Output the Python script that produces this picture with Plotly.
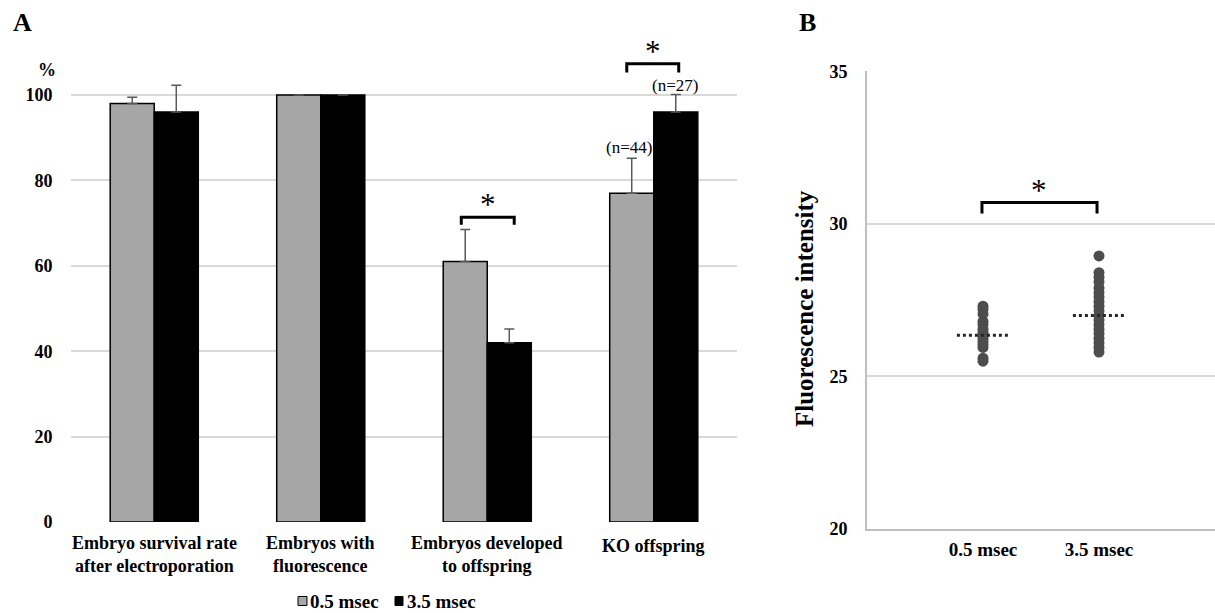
import plotly.graph_objects as go

# ---------------- data ----------------
categories = ["Embryo survival rate<br>after electroporation",
              "Embryos with<br>fluorescence",
              "Embryos developed<br>to offspring",
              "KO offspring"]
series_names = ["0.5 msec", "3.5 msec"]
vals_05 = [98.0, 100.0, 61.0, 77.0]
vals_35 = [96.0, 100.0, 42.0, 96.0]
err_05 = [1.5, None, 7.5, 8.2]
err_35 = [6.3, None, 3.2, 4.1]
n_labels = ["(n=44)", "(n=27)"]
yticks_a = [0, 20, 40, 60, 80, 100]

groups_b = ["0.5 msec", "3.5 msec"]
fluo_05 = [27.3, 27.2, 27.05, 26.8, 26.7, 26.55, 26.45, 26.35, 26.25, 26.15,
           26.05, 25.95, 25.6, 25.5]
fluo_35 = [28.95, 28.4, 28.25, 28.1, 27.9, 27.75, 27.6, 27.45, 27.3, 27.15,
           27.0, 26.85, 26.7, 26.55, 26.4, 26.25, 26.1, 25.95, 25.8]
mean_05 = 26.35
mean_35 = 27.0
yticks_b = [20, 25, 30, 35]

SERIF = "Liberation Serif, Times New Roman, serif"
GRID = "#D9D9D9"
COL_05 = "#A6A6A6"
COL_35 = "#000000"

W, H = 1215, 613
def px(x):
    return x / W
def py(y):
    return 1 - y / H

fig = go.Figure()

xpos = list(range(len(categories)))
for vals, errs, col, name in [(vals_05, err_05, COL_05, series_names[0]),
                              (vals_35, err_35, COL_35, series_names[1])]:
    fig.add_trace(go.Bar(
        x=xpos, y=vals, name=name, showlegend=False,
        marker=dict(color=col, line=dict(color="black", width=1.5)),
        error_y=dict(type="data", symmetric=False, array=errs,
                     arrayminus=[0 if e is not None else None for e in errs],
                     color="#595959", thickness=1.5, width=5),
        xaxis="x", yaxis="y"))

# Panel B dots
for xc, vals in [(1, fluo_05), (2, fluo_35)]:
    fig.add_trace(go.Scatter(
        x=[xc] * len(vals), y=vals, mode="markers",
        marker=dict(color="#4D4D4D", size=11), showlegend=False,
        xaxis="x2", yaxis="y2"))
for xc, m in [(1, mean_05), (2, mean_35)]:
    fig.add_trace(go.Scatter(
        x=[xc - 0.225, xc + 0.225], y=[m, m], mode="lines",
        line=dict(color="#262626", width=3, dash="dot"), showlegend=False,
        xaxis="x2", yaxis="y2"))

# category labels
for i, lab in enumerate(categories):
    one_line = "<br>" not in lab
    fig.add_annotation(x=i, y=py(545.5 if one_line else 554), xref="x", yref="paper",
                       xanchor="center", yanchor="middle",
                       text=f"<b>{lab}</b>", showarrow=False,
                       font=dict(family=SERIF, size=18, color="black"))

# brackets with asterisks
def bracket(xref, yref, x0, x1, ytop, ybot):
    fig.add_shape(type="path", xref=xref, yref=yref,
                  path=f"M {x0},{ybot} L {x0},{ytop} L {x1},{ytop} L {x1},{ybot}",
                  line=dict(color="black", width=3))
    fig.add_annotation(x=(x0 + x1) / 2, y=ytop, xref=xref, yref=yref,
                       text="*", showarrow=False, yanchor="bottom", yshift=-7,
                       font=dict(family=SERIF, size=31, color="black"))

bracket("x", "y", 2 - 0.156, 2 + 0.162, 71.4, 69.6)
bracket("x", "y", 3 - 0.162, 3 + 0.150, 107.3, 105.3)
bracket("x2", "y2", 0.991, 1.983, 30.70, 30.34)

# n labels
fig.add_annotation(x=3 - 0.15, y=87.6, xref="x", yref="y", text=n_labels[0],
                   showarrow=False, font=dict(family=SERIF, size=17, color="black"))
fig.add_annotation(x=3 + 0.126, y=102.3, xref="x", yref="y", text=n_labels[1],
                   showarrow=False, font=dict(family=SERIF, size=17, color="black"))

# panel letters, % label, y title of B
for x, y, t, s in [(22, 22, "A", 26), (807, 22, "B", 26), (47, 70, "%", 18)]:
    fig.add_annotation(x=px(x), y=py(y), xref="paper", yref="paper",
                       xanchor="center", yanchor="middle",
                       text=f"<b>{t}</b>", showarrow=False,
                       font=dict(family=SERIF, size=s, color="black"))
fig.add_annotation(x=px(804), y=py(309), xref="paper", yref="paper",
                   xanchor="center", yanchor="middle", textangle=-90,
                   text="<b>Fluorescence intensity</b>", showarrow=False,
                   font=dict(family=SERIF, size=25, color="black"))

# manual legend
for (x0, x1, tx), col, name in [((298, 307, 308), COL_05, series_names[0]),
                                ((395, 403, 405), COL_35, series_names[1])]:
    fig.add_shape(type="rect", xref="paper", yref="paper",
                  x0=px(x0), x1=px(x1), y0=py(605.5), y1=py(596.5),
                  fillcolor=col, line=dict(color="black", width=1))
    fig.add_annotation(x=px(tx), y=py(601), xref="paper", yref="paper",
                       xanchor="left", yanchor="middle",
                       text=f"<b>{name}</b>", showarrow=False,
                       font=dict(family=SERIF, size=19, color="black"))

fig.update_layout(
    width=W, height=H,
    margin=dict(l=0, r=0, t=0, b=0, autoexpand=False),
    paper_bgcolor="white", plot_bgcolor="white",
    barmode="group", bargap=0.471, bargroupgap=0,
    font=dict(family=SERIF, color="black"),
    showlegend=False,
    xaxis=dict(domain=[px(71), px(737)], range=[-0.5, 3.5],
               tickvals=xpos, showticklabels=False,
               showgrid=False, zeroline=False, showline=False,
               automargin=False),
    yaxis=dict(domain=[py(522), py(43.8)], range=[0, 112],
               tickvals=yticks_a, ticktext=[f"<b>{v}</b>" for v in yticks_a],
               tickfont=dict(family=SERIF, size=18, color="black"),
               showgrid=True, gridcolor=GRID, gridwidth=2,
               zeroline=False, showline=False,
               ticks="outside", ticklen=14, tickcolor="rgba(0,0,0,0)",
               automargin=False),
    xaxis2=dict(domain=[px(867), 1.0], range=[0, 3], anchor="y2",
                tickvals=[1, 2], ticktext=[f"<b>{g}</b>" for g in groups_b],
                tickfont=dict(family=SERIF, size=19, color="black"),
                showgrid=False, zeroline=False, showline=True,
                linecolor="#BFBFBF", linewidth=2,
                ticks="outside", ticklen=2, tickcolor="rgba(0,0,0,0)",
                automargin=False),
    yaxis2=dict(domain=[py(529), py(71.3)], range=[20, 35],
                anchor="x2",
                tickvals=yticks_b, ticktext=[f"<b>{v}</b>" for v in yticks_b],
                tickfont=dict(family=SERIF, size=18, color="black"),
                showgrid=True, gridcolor=GRID, gridwidth=2,
                zeroline=False, showline=True, linecolor="#BFBFBF", linewidth=2,
                ticks="outside", ticklen=14, tickcolor="rgba(0,0,0,0)",
                automargin=False),
)

fig.write_html("out.html", config={"displayModeBar": False},
               post_script="document.body.style.margin='0px';")
